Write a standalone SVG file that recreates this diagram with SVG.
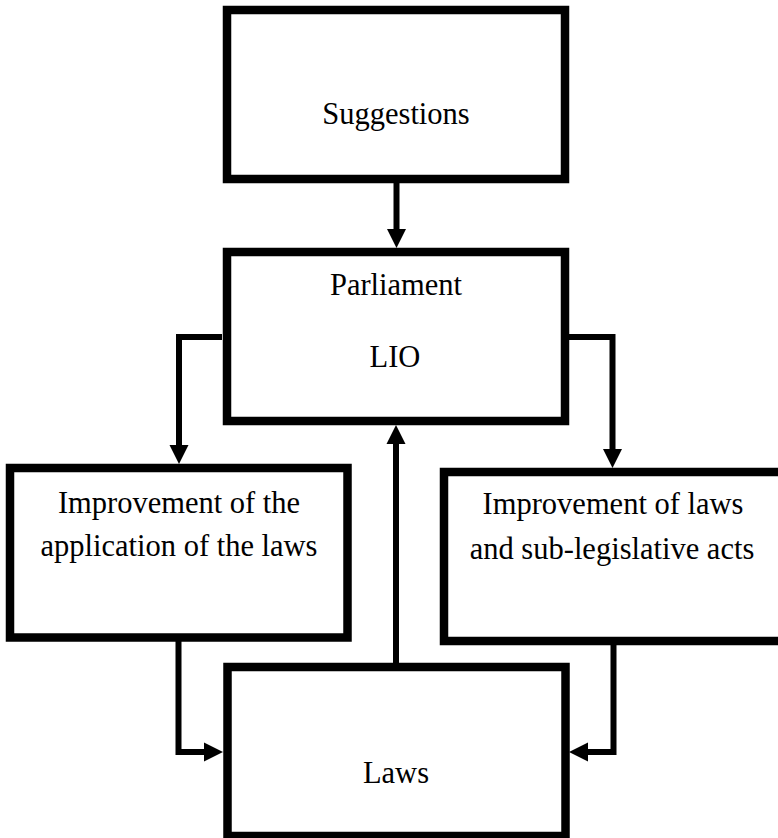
<svg xmlns="http://www.w3.org/2000/svg" width="778" height="838" viewBox="0 0 778 838">
<style>
.box{fill:#fff;stroke:#000;stroke-width:8.5}
.lbl{font-family:"Liberation Serif","Times New Roman",serif;font-size:30.5px;fill:#000;text-anchor:middle}
.con{fill:none;stroke:#000;stroke-width:6;stroke-linejoin:miter}
</style>
<defs>
<marker id="ah" markerUnits="userSpaceOnUse" markerWidth="20" markerHeight="20" refX="0" refY="9.5" orient="auto" viewBox="0 0 20 19">
<path d="M0,0 L19,9.5 L0,19 z" fill="#000"/>
</marker>
</defs>
<rect x="0" y="0" width="778" height="838" fill="#fff"/>
<g id="suggestions">
<rect class="box" x="227" y="10" width="338" height="169"/>
<text class="lbl" x="396" y="124">Suggestions</text>
</g>
<g id="parliament">
<rect class="box" x="227" y="252" width="338" height="169"/>
<text class="lbl" x="396" y="295">Parliament</text>
<text class="lbl" x="395" y="367">LIO</text>
</g>
<g id="application">
<rect class="box" x="10" y="468" width="337.5" height="169.5"/>
<text class="lbl" x="179" y="513">Improvement of the</text>
<text class="lbl" x="179" y="556">application of the laws</text>
</g>
<g id="improvement">
<rect class="box" x="444" y="472" width="340" height="169"/>
<text class="lbl" x="613" y="514">Improvement of laws</text>
<text class="lbl" x="612" y="559">and sub-legislative acts</text>
</g>
<g id="laws">
<rect class="box" x="227.5" y="667" width="338" height="169"/>
<text class="lbl" x="396" y="783">Laws</text>
</g>
<g id="connectors">
<path class="con" d="M396.5,183 V229" marker-end="url(#ah)"/>
<path class="con" d="M222,337 H179 V445" marker-end="url(#ah)"/>
<path class="con" d="M569,337 H612.5 V449" marker-end="url(#ah)"/>
<path class="con" d="M396,663 V444" marker-end="url(#ah)"/>
<path class="con" d="M178.5,641 V752 H204" marker-end="url(#ah)"/>
<path class="con" d="M613.5,645 V752 H588" marker-end="url(#ah)"/>
</g>
</svg>
